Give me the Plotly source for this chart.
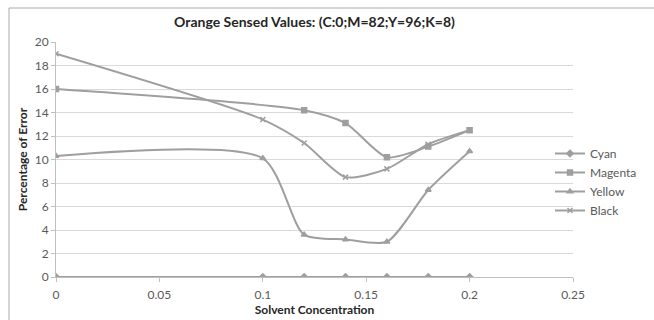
import plotly.graph_objects as go

# Solvent concentration levels and measured percentage error per ink channel
conc_cyan = [0, 0.1, 0.12, 0.14, 0.16, 0.18, 0.2]
err_cyan = [0, 0, 0, 0, 0, 0, 0]

conc_magenta = [0, 0.12, 0.14, 0.16, 0.18, 0.2]
err_magenta = [16.0, 14.2, 13.1, 10.2, 11.1, 12.5]

conc_yellow = [0, 0.1, 0.12, 0.14, 0.16, 0.18, 0.2]
err_yellow = [10.3, 10.1, 3.6, 3.2, 3.0, 7.4, 10.7]

conc_black = [0, 0.1, 0.12, 0.14, 0.16, 0.18, 0.2]
err_black = [19.0, 13.4, 11.4, 8.5, 9.2, 11.3, 12.5]

x_ticks = [0, 0.05, 0.1, 0.15, 0.2, 0.25]
x_tick_text = ["0", "0.05", "0.1", "0.15", "0.2", "0.25"]
y_ticks = [0, 2, 4, 6, 8, 10, 12, 14, 16, 18, 20]

LINE = "#9f9f9f"
TEXT = "#595959"
FONT = "Lato"
W, H = 654, 320

series = [
    ("Cyan", conc_cyan, err_cyan, "diamond"),
    ("Magenta", conc_magenta, err_magenta, "square"),
    ("Yellow", conc_yellow, err_yellow, "triangle-up"),
    ("Black", conc_black, err_black, "x-thin"),
]

fig = go.Figure()
for name, xs, ys, sym in series:
    fig.add_trace(go.Scatter(
        x=xs, y=ys, name=name, mode="lines+markers",
        line=dict(color=LINE, width=2, shape="spline", smoothing=0.7),
        marker=dict(symbol=sym, size=5, color=LINE,
                    line=dict(color=LINE, width=1.5)),
    ))

# Zero margins: the paper is the whole page, the plot area is set by domains
fig.update_layout(
    width=W, height=H,
    margin=dict(l=0, r=0, t=0, b=0, pad=0, autoexpand=False),
    paper_bgcolor="white", plot_bgcolor="white",
    font=dict(family=FONT, size=12, color=TEXT),
    title=dict(text="<b>Orange Sensed Values: (C:0;M=82;Y=96;K=8)</b>",
               x=(56 + 573) / 2 / W, xanchor="center", xref="paper",
               y=1 - 22 / H, yanchor="middle", yref="paper",
               font=dict(family=FONT, size=14, color="#262626")),
    showlegend=True,
    legend=dict(x=550 / W, xanchor="left", y=1 - 139 / H, yanchor="top",
                bgcolor="rgba(0,0,0,0)", tracegroupgap=0,
                itemwidth=30, font=dict(family=FONT, size=12, color=TEXT)),
    xaxis=dict(domain=[56 / W, 573 / W], range=[0, 0.25],
               tickvals=x_ticks, ticktext=x_tick_text,
               showgrid=False, zeroline=False, showline=True, automargin=False,
               linecolor="#bfbfbf", linewidth=1, ticks="outside",
               ticklen=4, tickcolor="#bfbfbf", ticklabelstandoff=3,
               title=dict(text="<b>Solvent Concentration</b>", standoff=4,
                          font=dict(family=FONT, size=12, color="#262626"))),
    yaxis=dict(domain=[1 - 277 / H, 1 - 42 / H], range=[0, 20],
               tickvals=y_ticks, showgrid=True, automargin=False,
               gridcolor="#d9d9d9", gridwidth=1, zeroline=False,
               showline=True, linecolor="#bfbfbf", linewidth=1,
               ticks="outside", ticklen=4, tickcolor="#bfbfbf",
               title=dict(text="<b>Percentage of Error</b>", standoff=4,
                          font=dict(family=FONT, size=12, color="#262626"))),
)

# Chart frame outline (top and left edges visible; right/bottom run off-page)
fig.add_shape(type="rect", xref="paper", yref="paper", layer="above",
              x0=9 / W, x1=1.2, y0=-0.2, y1=1 - 8 / H,
              line=dict(color="#aaaaaa", width=1), fillcolor="rgba(0,0,0,0)")

fig.write_html("out.html")
